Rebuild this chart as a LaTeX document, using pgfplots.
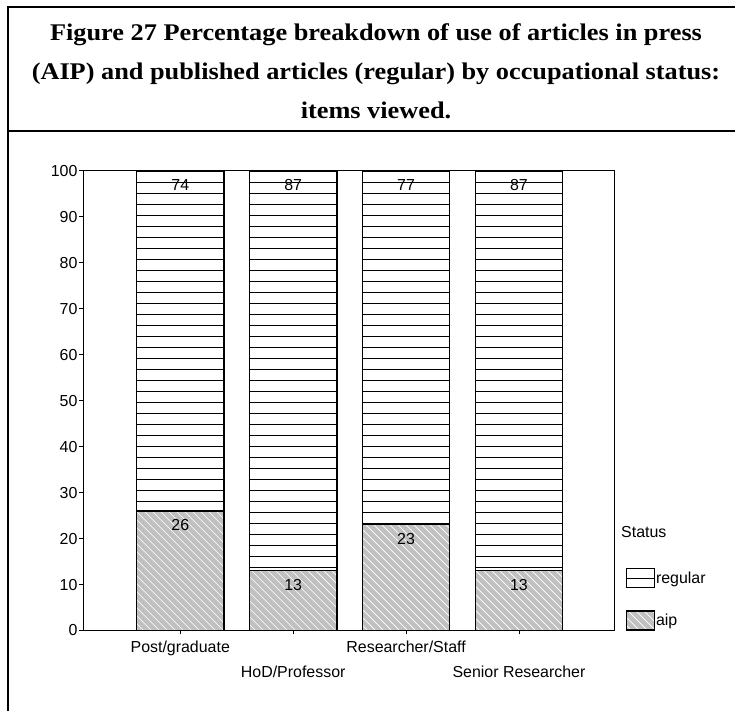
\documentclass[border=0pt]{standalone}
\usepackage{fontspec}
\setmainfont{Liberation Sans}
\newfontfamily\titlefont[FakeStretch=1.1]{Liberation Serif}
\usepackage{pgfplots}
\pgfplotsset{compat=1.18}
\usetikzlibrary{patterns}

\definecolor{aipgray}{HTML}{C0C0C0}

\pgfdeclarepatternformonly{hlines}{\pgfpoint{0bp}{0bp}}{\pgfpoint{100bp}{1bp}}{\pgfpoint{100bp}{11bp}}{%
  \pgfsetlinewidth{1bp}%
  \pgfpathmoveto{\pgfpoint{0bp}{0.5bp}}%
  \pgfpathlineto{\pgfpoint{100bp}{0.5bp}}%
  \pgfusepath{stroke}}

\pgfdeclarepatternformonly{nwl}{\pgfpoint{-1bp}{-1bp}}{\pgfpoint{9bp}{9bp}}{\pgfpoint{8bp}{8bp}}{%
  \pgfsetlinewidth{0.7bp}%
  \pgfpathmoveto{\pgfpoint{0bp}{8bp}}%
  \pgfpathlineto{\pgfpoint{8.1bp}{-0.1bp}}%
  \pgfusepath{stroke}}

\begin{document}
\begin{tikzpicture}
\useasboundingbox (0bp,0bp) rectangle (735bp,711bp);
\fill[white] (0bp,0bp) rectangle (735bp,711bp);
% frame
\draw[line width=2.3bp] (8bp,-10bp) -- (8bp,704bp) -- (760bp,704bp);
\draw[line width=2.3bp] (8bp,580bp) -- (760bp,580bp);
% title
\begin{scope}[every node/.style={anchor=base, inner sep=0pt, font=\titlefont\bfseries\fontsize{24}{28}\selectfont}]
\node at (376bp,670bp) {Figure 27 Percentage breakdown of use of articles in press};
\node at (376bp,631bp) {(AIP) and published articles (regular) by occupational status:};
\node at (376bp,592bp) {items viewed.};
\end{scope}

\begin{axis}[
  at={(83.5bp,80.5bp)}, anchor=south west,
  scale only axis, width=531bp, height=459.8bp,
  ybar stacked, bar width=87.5bp,
  xmin=-0.857, xmax=3.846, ymin=0, ymax=100,
  axis lines=left, axis line style={-, line width=1.6bp},
  clip=false,
  /pgf/number format/assume math mode=true,
  ytick={0,10,...,100},
  xtick={0,2}, xticklabels={Post/graduate, Researcher/Staff},
  extra x ticks={1,3}, extra x tick labels={HoD/Professor, Senior Researcher},
  extra x tick style={xticklabel style={yshift=-25bp}},
  xticklabel style={yshift=-3bp},
  tick align=outside, major tick length=4bp,
  tick style={black, line width=0.8bp},
  ticklabel style={font=\fontsize{16}{19}\selectfont},
  yticklabel style={xshift=1.5bp},
  visualization depends on={rawy \as \rawy},
  every node near coord/.append style={anchor=center, yshift={\rawy*2.299bp-14.5bp}, font=\fontsize{16}{19}\selectfont},
  nodes near coords, point meta=explicit symbolic,
  reverse legend,
  legend style={at={(1.021,0.136)}, anchor=north west, draw=none, fill=none, inner sep=0pt,
    row sep=22bp, nodes={inner sep=1bp}, font=\fontsize{16}{19}\selectfont},
  legend cell align=left,
  legend image code/.code={\draw[#1, line width=1.2bp] (0bp,-9.5bp) rectangle (28bp,9.5bp);},
]
\addplot[preaction={fill=aipgray}, pattern=nwl, pattern color=white, draw=black, line width=1.3bp]
  coordinates {(0,26) [26] (1,13) [13] (2,23) [23] (3,13) [13]};
\addplot[fill=white, postaction={pattern=hlines, pattern color=black}, draw=black, line width=1.3bp]
  coordinates {(0,74) [74] (1,87) [87] (2,77) [77] (3,87) [87]};
\legend{aip, regular}
\draw[line width=0.8bp] (rel axis cs:0,1) -- (rel axis cs:1,1) -- (rel axis cs:1,0);
\node[anchor=base west, inner sep=0pt, font=\fontsize{16}{19}\selectfont] at (rel axis cs:1.0122,0.2027) {Status};
\end{axis}
\end{tikzpicture}
\end{document}
